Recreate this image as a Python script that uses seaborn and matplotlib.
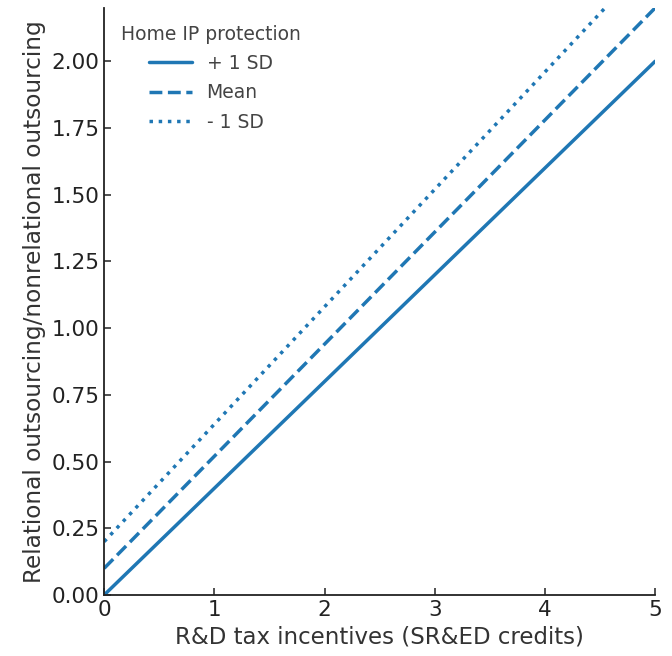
import numpy as np
import pandas as pd
import seaborn as sns
import matplotlib
matplotlib.use("Agg")
import matplotlib.pyplot as plt

# Predicted ratio at the two ends of the incentive range, per moderator level
incentives = [0, 5]
plus_1sd = [0.0, 2.0]
mean_level = [0.1, 2.2]
minus_1sd = [0.2, 2.4]
levels = ["+ 1 SD", "Mean", "- 1 SD"]

df = pd.DataFrame({
    "x": incentives * 3,
    "y": plus_1sd + mean_level + minus_1sd,
    "level": [levels[0]] * 2 + [levels[1]] * 2 + [levels[2]] * 2,
})

sns.set_style("ticks", {"xtick.direction": "in", "ytick.direction": "in"})
plt.rcParams["font.family"] = ["DejaVu Sans"]

fig = plt.figure(figsize=(6.72, 6.56), dpi=100)
ax = fig.add_axes([0.155, 0.093, 0.82, 0.895])

lw = 2.5
sns.lineplot(
    data=df, x="x", y="y", style="level", style_order=levels,
    dashes={levels[0]: "", levels[1]: (3.7, 1.6), levels[2]: (1, 1.65)},
    color="#1f77b4", linewidth=lw, ax=ax,
)
sns.despine(ax=ax)

ax.set_xlim(0, 5)
ax.set_ylim(0, 2.2)
ax.set_yticks(np.arange(0, 2.01, 0.25))
ax.set_yticklabels([f"{v:.2f}" for v in np.arange(0, 2.01, 0.25)])
ax.set_xticks(range(0, 6))
ax.tick_params(labelsize=15.5, colors="#222222", length=5, width=1.1)
for s in ["left", "bottom"]:
    ax.spines[s].set_linewidth(1.3)
    ax.spines[s].set_color("#222222")

ax.set_xlabel("R&D tax incentives (SR&ED credits)", fontsize=16.5, color="#333333")
ax.set_ylabel("Relational outsourcing/nonrelational outsourcing", fontsize=16.7, color="#333333")

leg = ax.legend(title="Home IP protection", loc="upper left", frameon=False,
                fontsize=13.5, title_fontsize=13.5, handlelength=2.25,
                handletextpad=0.8, labelspacing=0.55)
leg.get_title().set_color("#444444")
for t in leg.get_texts():
    t.set_color("#444444")
for h in leg.get_lines():
    h.set_linewidth(lw)

fig.savefig("out.png", dpi=100)
